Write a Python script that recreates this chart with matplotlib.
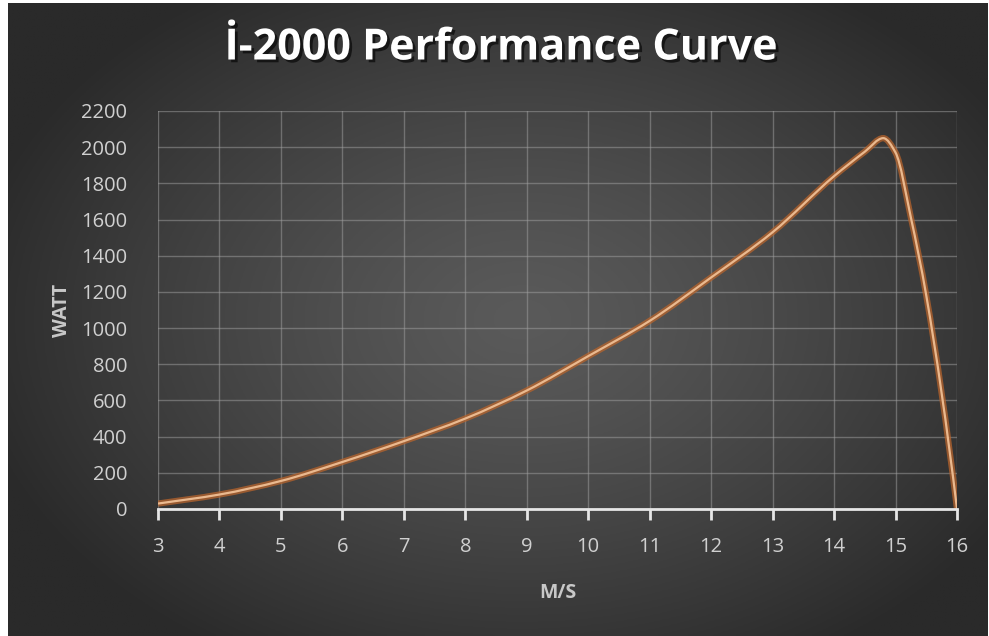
import numpy as np
import matplotlib.pyplot as plt
from matplotlib.path import Path
from matplotlib.patches import PathPatch
import matplotlib.patheffects as pe

# data
wind_speed = [3, 4, 5, 6, 7, 8, 9, 10, 11, 12, 13, 14, 14.5, 14.8, 15, 15.25, 15.5, 16]
power_watt = [30, 80, 155, 260, 375, 500, 655, 845, 1040, 1280, 1530, 1840, 1975, 2050, 1970, 1610, 1180, 0]
x_ticks = list(range(3, 17))
y_ticks = list(range(0, 2201, 200))


def smooth_path(xs, ys):
    # monotone cubic bezier through the points (like Excel's smoothed line)
    xs = np.asarray(xs, float)
    ys = np.asarray(ys, float)
    h = np.diff(xs)
    d = np.diff(ys) / h
    n = len(xs)
    m = np.zeros(n)
    for i in range(1, n - 1):
        if d[i - 1] * d[i] <= 0:
            m[i] = 0
        else:
            w1 = 2 * h[i] + h[i - 1]
            w2 = h[i] + 2 * h[i - 1]
            m[i] = (w1 + w2) / (w1 / d[i - 1] + w2 / d[i])
    m[0] = d[0]
    m[-1] = ((2 * h[-1] + h[-2]) * d[-1] - h[-1] * d[-2]) / (h[-1] + h[-2])
    verts = [(xs[0], ys[0])]
    codes = [Path.MOVETO]
    for i in range(n - 1):
        verts += [(xs[i] + h[i] / 3, ys[i] + m[i] * h[i] / 3),
                  (xs[i + 1] - h[i] / 3, ys[i + 1] - m[i + 1] * h[i] / 3),
                  (xs[i + 1], ys[i + 1])]
        codes += [Path.CURVE4] * 3
    return Path(verts, codes)


fig = plt.figure(figsize=(9.89, 6.36), dpi=100, facecolor='white')

# dark radial gradient background
bg = fig.add_axes([8 / 989, 0, 979 / 989, 633 / 636], zorder=-1)
gx, gy = np.meshgrid(np.linspace(-1, 1, 400), np.linspace(-1, 1, 260))
r = np.sqrt(((gx - 0.05) / 1.15) ** 2 + ((gy - 0.0) / 1.25) ** 2)
r = np.clip(r, 0, 1)
c0 = np.array([0x5a, 0x5a, 0x5a]) / 255
c1 = np.array([0x2a, 0x2a, 0x2a]) / 255
img = c0 + (c1 - c0) * r[..., None] ** 1.3
bg.imshow(img, aspect='auto', extent=[0, 1, 0, 1])
bg.axis('off')

ax = fig.add_axes([158 / 989, 1 - 509 / 636, 799 / 989, 398 / 636])
ax.patch.set_alpha(0)
ax.set_xlim(3, 16)
ax.set_ylim(0, 2200)
ax.set_xticks(x_ticks)
ax.set_yticks(y_ticks)
ax.grid(True, color='#a0a0a0', alpha=0.5, linewidth=1)
ax.set_axisbelow(True)
for s in ['top', 'right', 'left']:
    ax.spines[s].set_visible(False)
ax.spines['bottom'].set_color('#e6e6e6')
ax.spines['bottom'].set_linewidth(2)
ax.tick_params(axis='x', colors='#e6e6e6', length=8, width=2, pad=12,
               labelsize=14.5, labelcolor='#d0d0d0')
ax.tick_params(axis='y', length=0, pad=22, labelsize=14.5, labelcolor='#d0d0d0')
for lab in ax.get_xticklabels() + ax.get_yticklabels():
    lab.set_fontfamily('Open Sans')

path = smooth_path(wind_speed, power_watt)
ax.add_patch(PathPatch(path, facecolor='none', edgecolor='#b8642c', linewidth=4.5, alpha=0.75))
ax.add_patch(PathPatch(path, facecolor='none', edgecolor='#eab98f', linewidth=1.6))

ax.set_xlabel('M/S', fontsize=14, fontweight='bold', color='#c8c8c8',
              fontfamily='Open Sans', labelpad=19)
ax.set_ylabel('WATT', fontsize=14, fontweight='bold', color='#c8c8c8',
              fontfamily='Open Sans', labelpad=7)

fig.text(0.506, 1 - 48 / 636, 'İ-2000 Performance Curve', ha='center', va='center',
         fontsize=31, fontweight='bold', color='white', fontfamily='Open Sans',
         path_effects=[pe.withSimplePatchShadow(offset=(2, -2), shadow_rgbFace='black', alpha=0.6)])

fig.savefig('out.png', dpi=100, facecolor='white')
